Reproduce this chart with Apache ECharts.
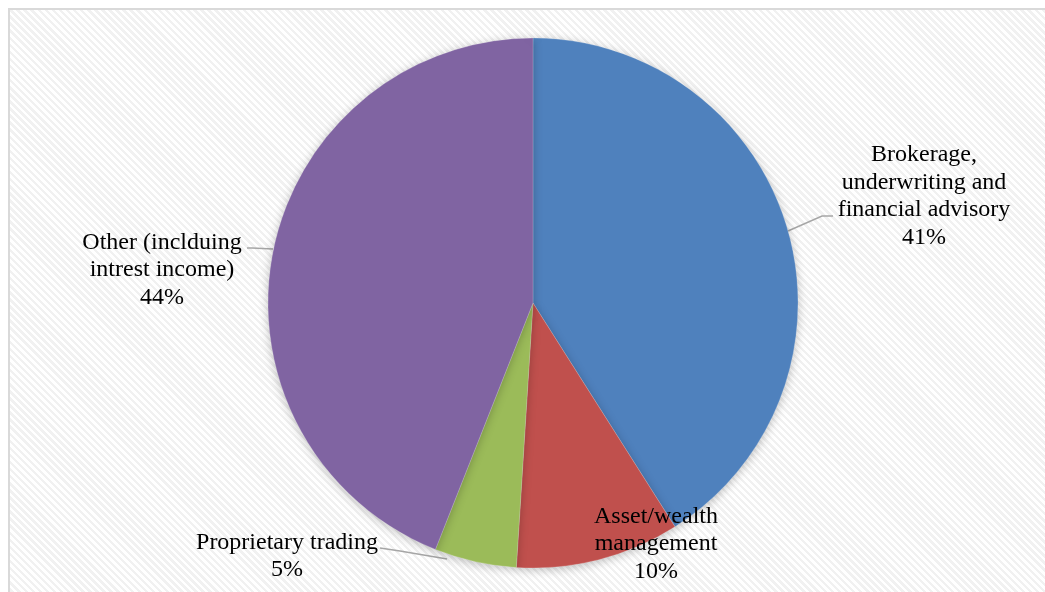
<!DOCTYPE html>
<html>
<head>
<meta charset="utf-8">
<script src="https://cdn.jsdelivr.net/npm/echarts@6/dist/echarts.min.js"></script>
<style>
	html,body{margin:0;padding:0;background:#fff;overflow:hidden;}
	#frame{
		position:absolute;left:8px;top:8px;width:1060px;height:620px;
		border:2px solid #d9d9d9;
		background:repeating-linear-gradient(45deg,#ffffff 0px,#ffffff 2.5px,#f1f1f1 2.5px,#f1f1f1 5px);
	}
	#revenue-echarts{position:absolute;left:0;top:0;width:1045px;height:592px;}
</style>
</head>
<body>
<div id="frame"></div>
<div id="revenue-echarts"></div>
<script>
var categories = ['Brokerage,\nunderwriting and\nfinancial advisory','Asset/wealth\nmanagement','Proprietary trading','Other (inclduing\nintrest income)'];
var shares = [41,10,5,44];

// where each label sits, and the leader line that goes to it
var labelSpots = [[924,196],[656,544],[287,556],[162,270]];
var leaderLines = [
	[[788,231],[822,216],[833,216]],
	null,
	[[447,559],[400,551],[380,548]],
	[[273,249],[252,248],[247,248]]
];

function revenueEcharts(idName){
	var revenueEcharts = echarts.init(document.getElementById(idName));

	var data = [];
	for(var i=0;i<categories.length;i++){
		data.push({
			value:shares[i],
			name:categories[i],
			labelLine:{show:leaderLines[i]!==null}
		});
	}

	var option = {
		backgroundColor:'transparent',
		color:['#4f81bd','#c0504d','#9bbb59','#8064a2'],
		animation:false,
		series : [
			{
				type:'pie',
				center:[533,303],
				radius:265,
				startAngle:90,
				clockwise:true,
				data:data,
				itemStyle:{
					borderColor:'rgba(255,255,255,0.35)',
					borderWidth:0.5,
					shadowBlur:10,
					shadowOffsetY:2,
					shadowColor:'rgba(0,0,0,0.25)'
				},
				label:{
					show:true,
					position:'outside',
					formatter:'{b}\n{d}%',
					fontFamily:'"Liberation Serif", "Times New Roman", serif',
					fontSize:24,
					lineHeight:27.5,
					color:'#000',
					align:'center'
				},
				labelLine:{
					lineStyle:{color:'#a6a6a6',width:1.5}
				},
				labelLayout:function(params){
					var i = params.dataIndex;
					var res = {
						x:labelSpots[i][0],
						y:labelSpots[i][1],
						align:'center',
						verticalAlign:'middle'
					};
					if(leaderLines[i]){
						res.labelLinePoints = leaderLines[i];
					}
					return res;
				}
			}
		]
	};

	revenueEcharts.setOption(option);
}

revenueEcharts('revenue-echarts');
</script>
</body>
</html>
